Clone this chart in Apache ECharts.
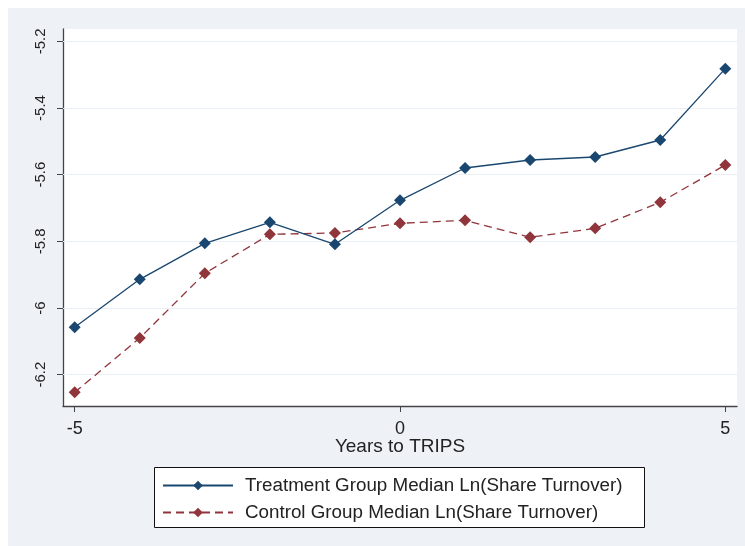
<!DOCTYPE html>
<html>
<head>
<meta charset="utf-8">
<script src="https://cdn.jsdelivr.net/npm/echarts@6/dist/echarts.min.js"></script>
<style>
html,body{margin:0;padding:0;background:#ffffff;}
#c{position:absolute;left:8px;top:8px;width:737px;height:538px;}
</style>
</head>
<body>
<div id="c"></div>
<script>
var years = [-5, -4, -3, -2, -1, 0, 1, 2, 3, 4, 5];
var treatment = [-6.058, -5.914, -5.806, -5.743, -5.809, -5.677, -5.580, -5.556, -5.547, -5.496, -5.282];
var control = [-6.253, -6.090, -5.896, -5.779, -5.775, -5.746, -5.737, -5.788, -5.761, -5.683, -5.571];
var xTicks = [-5, 0, 5];
var yTicks = [-6.2, -6, -5.8, -5.6, -5.4, -5.2];
var seriesNames = ['Treatment Group Median Ln(Share Turnover)', 'Control Group Median Ln(Share Turnover)'];

var font = 'Liberation Sans, Arial, sans-serif';
var chart = echarts.init(document.getElementById('c'), null, {renderer: 'canvas'});
function pairs(v){ return years.map(function(x,i){ return [x, v[i]]; }); }
function fmt(v){ return String(Math.round(v*10)/10); }

chart.setOption({
  backgroundColor: '#EEF2F7',
  animation: false,
  graphic: [{
    type: 'rect', left: 146, top: 459,
    shape: {width: 490, height: 60},
    style: {fill: '#ffffff', stroke: '#111', lineWidth: 1}, z: 0
  }],
  grid: {left: 55, top: 21, right: 8, bottom: 140, backgroundColor: '#ffffff', show: true, borderWidth: 0},
  xAxis: {
    type: 'value', min: -5.18, max: 5.18,
    name: 'Years to TRIPS', nameLocation: 'middle', nameGap: 31, nameMoveOverlap: false,
    nameTextStyle: {fontFamily: font, fontSize: 19, color: '#222'},
    axisLine: {show: true, onZero: false, lineStyle: {color: '#444', width: 1.3}},
    axisTick: {show: true, length: 6, customValues: xTicks, lineStyle: {color: '#444'}},
    axisLabel: {customValues: xTicks, margin: 14, fontFamily: font, fontSize: 18, color: '#222',
      formatter: function(v){ return String(v); }},
    splitLine: {show: false}
  },
  yAxis: {
    type: 'value', min: -6.294, max: -5.163,
    axisLine: {show: true, onZero: false, lineStyle: {color: '#444', width: 1.3}},
    axisTick: {show: true, length: 6, customValues: yTicks, lineStyle: {color: '#444'}},
    axisLabel: {customValues: yTicks, rotate: 90, margin: 15, fontFamily: font, fontSize: 15, color: '#222',
      formatter: fmt},
    splitLine: {show: false}
  },
  legend: {
    orient: 'vertical', left: 154, top: 468,
    itemWidth: 70, itemHeight: 12, itemGap: 8,
    padding: 0,
    textStyle: {fontFamily: font, fontSize: 18.8, lineHeight: 15, color: '#222', padding: [0,0,0,7]},
    data: seriesNames
  },
  series: [{
    name: 'grid', type: 'line', data: [], silent: true, z: 1,
    markLine: {
      silent: true, symbol: 'none', label: {show: false}, z: 1,
      lineStyle: {color: '#EAEFF5', type: 'solid', width: 1.2},
      data: yTicks.map(function(v){ return {yAxis: v}; })
    }
  }, {
    name: seriesNames[0], type: 'line', data: pairs(treatment),
    symbol: 'diamond', symbolSize: 12,
    lineStyle: {color: '#1A476F', width: 1.3},
    itemStyle: {color: '#1A476F'},
    z: 3
  }, {
    name: seriesNames[1], type: 'line', data: pairs(control),
    symbol: 'diamond', symbolSize: 12,
    lineStyle: {color: '#90353B', width: 1.3, type: [8, 5]},
    itemStyle: {color: '#90353B'},
    z: 2
  }]
});
</script>
</body>
</html>
